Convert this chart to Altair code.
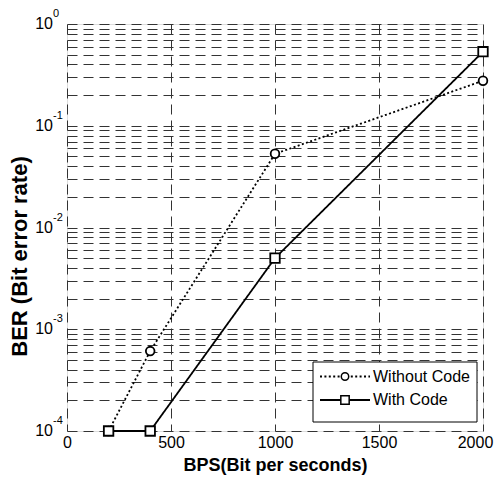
import altair as alt
import pandas as pd

# ---- data ----
bps = [200, 400, 1000, 2000]
ber_without_code = [1e-4, 6.1e-4, 0.053, 0.277]
ber_with_code = [1e-4, 1e-4, 0.005, 0.534]
series_names = ["Without Code", "With Code"]
x_ticks = [0, 500, 1000, 1500, 2000]
y_decade_exps = [0, -1, -2, -3, -4]
y_minor_mults = [1, 2, 3, 4, 5, 6, 7, 8, 9]

FONT = "Liberation Sans"

df = pd.DataFrame({
    "bps": bps * 2,
    "ber": ber_without_code + ber_with_code,
    "series": [series_names[0]] * len(bps) + [series_names[1]] * len(bps),
})

grid_vals = [m * 10.0 ** e for e in range(-4, 0) for m in y_minor_mults] + [1.0]
ylab = pd.DataFrame({
    "ber": [10.0 ** e for e in y_decade_exps],
    "exp": [str(e) for e in y_decade_exps],
})

x_scale = alt.Scale(domain=[0, 2000], nice=False)
y_scale = alt.Scale(type="log", domain=[1e-4, 1], nice=False)

GRID_COLOR = "#333333"
GRID_DASH = [10, 6]

x_enc = alt.X("bps:Q", scale=x_scale, axis=alt.Axis(
    values=x_ticks, format="d", title="BPS(Bit per seconds)", grid=True, gridDash=GRID_DASH,
    gridColor=GRID_COLOR, gridOpacity=1, gridWidth=1, ticks=False, domain=False,
    labelFontSize=16, labelFont=FONT, labelColor="black", labelPadding=3,
    labelFlush=False, labelBound=False,
    labelOffset={"condition": {"test": "datum.value == 2000", "value": -8}, "value": 0},
    titleFontSize=18, titleFont=FONT, titleFontWeight="bold", titleColor="black",
    titlePadding=6))
y_enc = alt.Y("ber:Q", scale=y_scale, axis=alt.Axis(
    values=grid_vals, title="BER (Bit error rate)", grid=True, gridDash=GRID_DASH,
    gridColor=GRID_COLOR, gridOpacity=1, gridWidth=1, ticks=False, domain=False,
    labels=False, titleFontSize=22, titleFont=FONT, titleFontWeight="bold",
    titleColor="black", titleX=-48, titleY=232, titleBaseline="middle"))

dash_scale = alt.Scale(domain=series_names, range=[[2, 2.4], [1, 0]])
shape_scale = alt.Scale(domain=series_names, range=["circle", "square"])
size_scale = alt.Scale(domain=series_names, range=[75, 90])

lines = alt.Chart(df).mark_line(color="black", strokeWidth=1.8).encode(
    x=x_enc, y=y_enc,
    strokeDash=alt.StrokeDash("series:N", scale=dash_scale, legend=None),
    detail="series:N",
)
points = alt.Chart(df).mark_point(filled=False, fill="white", fillOpacity=1,
                                  stroke="black", strokeWidth=1.8, opacity=1).encode(
    x=x_enc, y=y_enc,
    shape=alt.Shape("series:N", scale=shape_scale, legend=None),
    size=alt.Size("series:N", scale=size_scale, legend=None),
)

ten = alt.Chart(ylab).mark_text(text="10", align="right", baseline="middle",
                                fontSize=16, font=FONT, color="black").encode(
    x=alt.value(-14), y=y_enc)
exps = alt.Chart(ylab).mark_text(align="left", baseline="middle", dy=-10,
                                 fontSize=11, font=FONT, color="black").encode(
    x=alt.value(-14), y=y_enc, text="exp:N")

# ---- legend box ----
leg_df = pd.DataFrame({"label": series_names})
box = alt.Chart(leg_df.head(1)).mark_rect(fill="white", stroke="black", strokeWidth=1).encode(
    x=alt.value(246), x2=alt.value(410), y=alt.value(338), y2=alt.value(398))
leg_layers = [box]
row_y = [352.5, 376]
row_dash = [[2, 2.4], [1, 0]]
row_shape = ["circle", "square"]
row_size = [55, 70]
for i, name in enumerate(series_names):
    sub = leg_df.iloc[[i]]
    leg_layers.append(alt.Chart(sub).mark_rule(color="black", strokeWidth=1.8,
                                               strokeDash=row_dash[i]).encode(
        x=alt.value(253), x2=alt.value(303), y=alt.value(row_y[i])))
    leg_layers.append(alt.Chart(sub).mark_point(filled=False, fill="white", fillOpacity=1,
                                                stroke="black", strokeWidth=1.5, opacity=1,
                                                shape=row_shape[i], size=row_size[i]).encode(
        x=alt.value(278), y=alt.value(row_y[i])))
    leg_layers.append(alt.Chart(sub).mark_text(align="left", baseline="middle", fontSize=16,
                                               font=FONT, color="black").encode(
        x=alt.value(306), y=alt.value(row_y[i]), text="label:N"))

chart = alt.layer(lines, points, ten, exps, *leg_layers).properties(
    width=416, height=407,
    padding={"left": 59, "top": 16, "right": 11, "bottom": 44},
    autosize=alt.AutoSizeParams(type="none"),
).configure_view(stroke="black", strokeWidth=1.2).configure(background="white")

chart.save("out.html", embed_options={"renderer": "svg", "actions": False})
